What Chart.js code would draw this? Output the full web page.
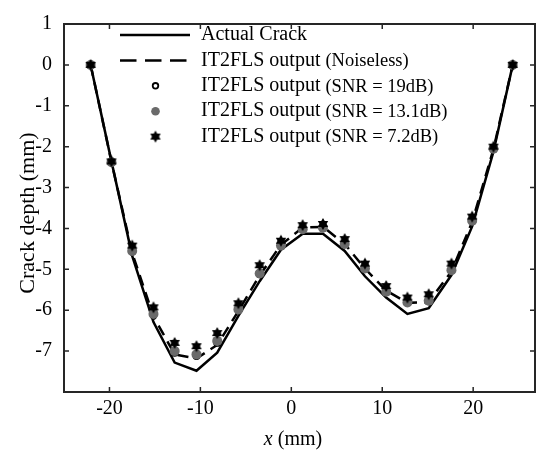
<!DOCTYPE html>
<html><head><meta charset="utf-8">
<script src="https://cdn.jsdelivr.net/npm/chart.js@4.4.0/dist/chart.umd.min.js"></script>
<style>html,body{margin:0;padding:0;background:#fff;}#wrap{width:542px;height:455px;}</style>
</head><body><div id="wrap"><canvas id="c" width="542" height="455"></canvas></div>
<script>
// ---- data ----
const xPositions = [-22.07, -19.78, -17.5, -15.16, -12.83, -10.43, -8.15, -5.82, -3.48, -1.14, 1.25, 3.48, 5.87, 8.1, 10.43, 12.77, 15.11, 17.61, 19.89, 22.23, 24.35];
const actualCrack = [0, -2.36, -4.67, -6.29, -7.28, -7.48, -7.04, -6.14, -5.29, -4.52, -4.13, -4.13, -4.55, -5.17, -5.69, -6.09, -5.95, -5.14, -3.95, -2.12, 0];
const noiseless   = [0, -2.37, -4.6, -6.15, -7.08, -7.18, -6.85, -6.02, -5.15, -4.4, -3.98, -3.96, -4.38, -4.98, -5.52, -5.82, -5.8, -5.05, -3.84, -2.06, 0];
const snr19       = [0, -2.37, -4.57, -6.12, -7.04, -7.12, -6.8, -6.0, -5.12, -4.41, -4.0, -3.97, -4.37, -4.97, -5.53, -5.81, -5.78, -5.03, -3.82, -2.05, 0];
const snr131      = [0, -2.38, -4.55, -6.09, -7.0, -7.08, -6.75, -5.98, -5.1, -4.42, -4.02, -3.98, -4.38, -4.98, -5.55, -5.81, -5.77, -5.02, -3.81, -2.05, 0];
const snr72       = [0, -2.36, -4.42, -5.93, -6.8, -6.88, -6.56, -5.83, -4.9, -4.3, -3.92, -3.89, -4.26, -4.86, -5.41, -5.69, -5.61, -4.86, -3.71, -2.0, 0];
const xTickValues = [-20, -10, 0, 10, 20];
const yTickValues = [-7, -6, -5, -4, -3, -2, -1, 0, 1];
const legendMain = ['Actual Crack', 'IT2FLS output', 'IT2FLS output', 'IT2FLS output', 'IT2FLS output'];
const legendSuffix = ['', '(Noiseless)', '(SNR = 19dB)', '(SNR = 13.1dB)', '(SNR = 7.2dB)'];
const xTitleItalic = 'x';
const xTitleRest = ' (mm)';
const yTitle = 'Crack depth (mm)';

const SERIF = "'Liberation Serif', 'Times New Roman', serif";

function hexagram(size, r, color) {
  const c = document.createElement('canvas');
  c.width = c.height = size;
  const g = c.getContext('2d');
  g.fillStyle = color;
  g.beginPath();
  for (let k = 0; k < 12; k++) {
    const a = -Math.PI / 2 + k * Math.PI / 6;
    const rr = (k % 2 === 0) ? r : r * 0.58;
    g.lineTo(size / 2 + rr * Math.cos(a), size / 2 + rr * Math.sin(a));
  }
  g.closePath();
  g.fill();
  return c;
}
const starImg = hexagram(14, 6, '#000');
const pts = arr => xPositions.map((x, i) => ({x: x, y: arr[i]}));

const framePlugin = {
  id: 'framePlugin',
  afterDraw(chart) {
    const ctx = chart.ctx, a = chart.chartArea;
    const xs = chart.scales.x, ys = chart.scales.y;
    ctx.save();
    ctx.strokeStyle = '#262626';
    ctx.lineWidth = 2;
    ctx.strokeRect(a.left, a.top, a.right - a.left, a.bottom - a.top);
    ctx.lineWidth = 1.5;
    ctx.beginPath();
    xTickValues.forEach(v => {
      const p = xs.getPixelForValue(v);
      ctx.moveTo(p, a.bottom); ctx.lineTo(p, a.bottom - 5);
      ctx.moveTo(p, a.top); ctx.lineTo(p, a.top + 5);
    });
    yTickValues.forEach(v => {
      const p = ys.getPixelForValue(v);
      ctx.moveTo(a.left, p); ctx.lineTo(a.left + 5, p);
      ctx.moveTo(a.right, p); ctx.lineTo(a.right - 5, p);
    });
    ctx.stroke();

    // legend
    const rowY0 = 35, rowDy = 25.4, lx0 = 120, lx1 = 190, mx = 155.5, tx = 201;
    ctx.fillStyle = '#000';
    ctx.textBaseline = 'middle';
    ctx.textAlign = 'left';
    for (let i = 0; i < legendMain.length; i++) {
      const y = rowY0 + i * rowDy;
      if (i === 0 || i === 1) {
        ctx.save();
        ctx.strokeStyle = '#000';
        ctx.lineWidth = 2.5;
        if (i === 1) ctx.setLineDash([16.5, 8.5]);
        ctx.beginPath(); ctx.moveTo(lx0, y); ctx.lineTo(lx1, y); ctx.stroke();
        ctx.restore();
      } else if (i === 2) {
        ctx.save();
        ctx.strokeStyle = '#000'; ctx.fillStyle = '#fff'; ctx.lineWidth = 1.8;
        ctx.beginPath(); ctx.arc(mx, y, 2.8, 0, Math.PI * 2); ctx.fill(); ctx.stroke();
        ctx.restore();
      } else if (i === 3) {
        ctx.save();
        ctx.fillStyle = '#6a6a6a';
        ctx.beginPath(); ctx.arc(mx, y, 4.3, 0, Math.PI * 2); ctx.fill();
        ctx.restore();
      } else {
        ctx.drawImage(starImg, mx - 7, y - 7);
      }
      ctx.font = '20px ' + SERIF;
      ctx.fillText(legendMain[i], tx, y);
      if (legendSuffix[i]) {
        const w = ctx.measureText(legendMain[i] + ' ').width;
        ctx.font = '18.5px ' + SERIF;
        ctx.fillText(legendSuffix[i], tx + w, y + 1);
      }
    }

    // axis titles
    ctx.font = 'italic 20px ' + SERIF;
    const w1 = ctx.measureText(xTitleItalic).width;
    ctx.font = '20px ' + SERIF;
    const w2 = ctx.measureText(xTitleRest).width;
    const cx = 293 - (w1 + w2) / 2;
    ctx.font = 'italic 20px ' + SERIF;
    ctx.fillText(xTitleItalic, cx, 440);
    ctx.font = '20px ' + SERIF;
    ctx.fillText(xTitleRest, cx + w1, 440);

    ctx.save();
    ctx.translate(28, 213);
    ctx.rotate(-Math.PI / 2);
    ctx.textAlign = 'center';
    ctx.font = '22px ' + SERIF;
    ctx.fillText(yTitle, 0, 0);
    ctx.restore();
    ctx.restore();
  }
};

new Chart(document.getElementById('c'), {
  type: 'line',
  data: {
    datasets: [
      {label: 'Actual Crack', data: pts(actualCrack), borderColor: '#000', borderWidth: 2.5, pointRadius: 0, tension: 0, order: 5},
      {label: 'IT2FLS output (Noiseless)', data: pts(noiseless), borderColor: '#000', borderWidth: 2.5, borderDash: [11, 7], pointRadius: 0, tension: 0, order: 4},
      {label: 'IT2FLS output (SNR = 19dB)', data: pts(snr19), showLine: false, pointStyle: 'circle', pointRadius: 3, borderWidth: 1.8, borderColor: '#000', backgroundColor: '#fff', order: 3},
      {label: 'IT2FLS output (SNR = 13.1dB)', data: pts(snr131), showLine: false, pointStyle: 'circle', pointRadius: 5, borderWidth: 0, borderColor: '#6a6a6a', backgroundColor: '#6a6a6a', order: 2},
      {label: 'IT2FLS output (SNR = 7.2dB)', data: pts(snr72), showLine: false, pointStyle: starImg, pointRadius: 6, order: 1}
    ]
  },
  options: {
    responsive: false,
    animation: false,
    devicePixelRatio: 1,
    layout: {padding: {top: 14, right: 1, left: 0, bottom: 0}},
    plugins: {legend: {display: false}, tooltip: {enabled: false}},
    scales: {
      x: {
        type: 'linear', min: -25, max: 26.8,
        afterBuildTicks: s => { s.ticks = xTickValues.map(v => ({value: v})); },
        afterFit: s => { s.height = 63; },
        grid: {display: false, drawTicks: false},
        border: {display: false},
        ticks: {color: '#000', font: {family: SERIF, size: 20}, padding: 5, maxRotation: 0}
      },
      y: {
        type: 'linear', min: -8, max: 1,
        afterBuildTicks: s => { s.ticks = yTickValues.map(v => ({value: v})); },
        afterFit: s => { s.width = 64; },
        grid: {display: false, drawTicks: false},
        border: {display: false},
        ticks: {color: '#000', font: {family: SERIF, size: 20}, padding: 12}
      }
    }
  },
  plugins: [framePlugin]
});
</script></body></html>
